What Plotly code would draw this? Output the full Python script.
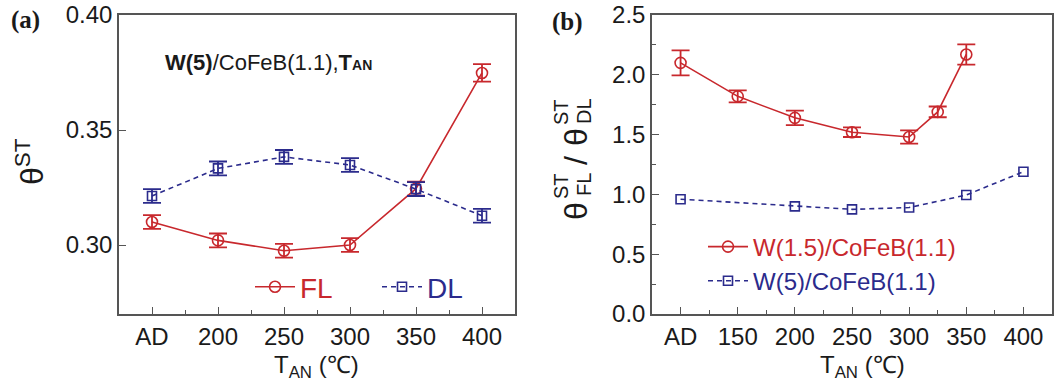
import plotly.graph_objects as go

W, H = 1062, 385

# ---------------- data ----------------
# panel (a): W(5)/CoFeB(1.1)
temps_a = ["AD", 200, 250, 300, 350, 400]
fl_a = [0.310, 0.302, 0.2975, 0.300, 0.3245, 0.3748]
fl_a_err = [0.003, 0.003, 0.003, 0.003, 0.003, 0.0038]
dl_a = [0.3213, 0.3333, 0.3383, 0.3348, 0.3243, 0.3127]
dl_a_err = [0.003, 0.003, 0.003, 0.003, 0.003, 0.003]
ticks_a = ["AD", "200", "250", "300", "350", "400"]

# panel (b): ratio FL/DL
temps_b_red = ["AD", 150, 200, 250, 300, 325, 350]
ratio_red = [2.10, 1.82, 1.64, 1.52, 1.48, 1.69, 2.17]
ratio_red_err = [0.105, 0.05, 0.06, 0.04, 0.055, 0.045, 0.085]
temps_b_blue = ["AD", 200, 250, 300, 350, 400]
ratio_blue = [0.96, 0.90, 0.875, 0.89, 0.995, 1.19]
ticks_b = ["AD", "150", "200", "250", "300", "350", "400"]

AD_POS_A = 150  # position used for the as-deposited sample on axis (a)
AD_POS_B = 100  # position used for the as-deposited sample on axis (b)

RED = "#c8282d"
BLUE = "#2b2b8c"
AXC = "#555555"
FONT = "Liberation Sans, Arial, sans-serif"


def xpos(temps, ad):
    return [ad if t == "AD" else t for t in temps]


def px(x):
    return x / W


def py(y):
    return 1 - y / H


fig = go.Figure()

mk_c = dict(symbol="circle-open", size=11, color=RED, line=dict(width=1.6, color=RED))
mk_s = dict(symbol="square-open", size=9, color=BLUE, line=dict(width=1.6, color=BLUE))

fig.add_trace(go.Scatter(
    x=xpos(temps_a, AD_POS_A), y=fl_a, mode="lines+markers",
    name=f"<span style='color:{RED}'>FL</span>",
    line=dict(color=RED, width=1.6), marker=mk_c,
    error_y=dict(type="data", array=fl_a_err, color=RED, thickness=1.8, width=9),
    xaxis="x", yaxis="y", legend="legend"))
fig.add_trace(go.Scatter(
    x=xpos(temps_a, AD_POS_A), y=dl_a, mode="lines+markers",
    name=f"<span style='color:{BLUE}'>DL</span>",
    line=dict(color=BLUE, width=1.6, dash="5px,4px"), marker=mk_s,
    error_y=dict(type="data", array=dl_a_err, color=BLUE, thickness=1.8, width=9),
    xaxis="x", yaxis="y", legend="legend"))

fig.add_trace(go.Scatter(
    x=xpos(temps_b_red, AD_POS_B), y=ratio_red, mode="lines+markers",
    name=f"<span style='color:{RED}'>W(1.5)/CoFeB(1.1)</span>",
    line=dict(color=RED, width=1.6), marker=mk_c,
    error_y=dict(type="data", array=ratio_red_err, color=RED, thickness=1.8, width=9),
    xaxis="x2", yaxis="y2", legend="legend2"))
fig.add_trace(go.Scatter(
    x=xpos(temps_b_blue, AD_POS_B), y=ratio_blue, mode="lines+markers",
    name=f"<span style='color:{BLUE}'>W(5)/CoFeB(1.1)</span>",
    line=dict(color=BLUE, width=1.6, dash="5px,4px"), marker=mk_s,
    xaxis="x2", yaxis="y2", legend="legend2"))

ydom = [py(314), py(15)]
axis_common = dict(showline=True, linecolor=AXC, linewidth=1.5, mirror=True,
                   ticks="inside", ticklen=7, tickwidth=1.3, tickcolor=AXC,
                   showgrid=False, zeroline=False, automargin=False,
                   tickfont=dict(family=FONT, size=24, color="#1a1a1a"))

fig.update_layout(
    width=W, height=H, margin=dict(l=0, r=0, t=0, b=0, autoexpand=False),
    paper_bgcolor="white", plot_bgcolor="white",
    xaxis=dict(domain=[px(119), px(515)], range=[125, 425],
               tickvals=xpos(temps_a, AD_POS_A), ticktext=ticks_a,
               minor=dict(dtick=25, tick0=125, ticks="inside", ticklen=4, tickcolor=AXC),
               ticklabelstandoff=0, anchor="y", **axis_common),
    yaxis=dict(domain=ydom, range=[0.27, 0.40], tickvals=[0.30, 0.35, 0.40],
               tickformat=".2f", anchor="x", **axis_common),
    xaxis2=dict(domain=[px(652), px(1052)], range=[75, 425],
                tickvals=[AD_POS_B, 150, 200, 250, 300, 350, 400], ticktext=ticks_b,
                minor=dict(dtick=25, tick0=75, ticks="inside", ticklen=4, tickcolor=AXC),
                ticklabelstandoff=0, anchor="y2", **axis_common),
    yaxis2=dict(domain=ydom, range=[0, 2.5], dtick=0.5, tickformat=".1f",
                minor=dict(dtick=0.25, ticks="inside", ticklen=4, tickcolor=AXC),
                anchor="x2", **axis_common),
    legend=dict(orientation="h", x=px(250), y=py(287), xanchor="left", yanchor="middle",
                bgcolor="rgba(0,0,0,0)", font=dict(family=FONT, size=28),
                entrywidth=72, itemwidth=40),
    legend2=dict(orientation="v", x=px(703), y=py(264), xanchor="left", yanchor="middle",
                 bgcolor="rgba(0,0,0,0)", font=dict(family=FONT, size=24),
                 itemwidth=40, tracegroupgap=0),
    showlegend=True,
)

ann = []
tfont = dict(family=FONT, size=24, color="#1a1a1a")
# panel labels
ann.append(dict(text="<b>(a)</b>", x=px(25), y=py(20), font=dict(family="Liberation Serif", size=25, color="#1a1a1a")))
ann.append(dict(text="<b>(b)</b>", x=px(567), y=py(22), font=dict(family="Liberation Serif", size=25, color="#1a1a1a")))
# inset label
ann.append(dict(text="<b>W(5)</b>/CoFeB(1.1),<b>T<span style='font-size:14px'>AN</span></b>",
                x=px(163), y=py(62), xanchor="left", font=dict(family=FONT, size=22, color="#1a1a1a")))
# x titles
ann.append(dict(text="T<sub>AN</sub> (℃)", x=px(316), y=py(366), font=tfont))
ann.append(dict(text="T<sub>AN</sub> (℃)", x=px(862), y=py(366), font=tfont))
# y title (a)
ann.append(dict(text="θ<sup>ST</sup>", x=px(30), y=py(162), textangle=-90,
                font=dict(family=FONT, size=32, color="#1a1a1a")))
# y title (b): θ^ST_FL / θ^ST_DL built from pieces
big = dict(family=FONT, size=32, color="#1a1a1a")
small = dict(family=FONT, size=20, color="#1a1a1a")
ann.append(dict(text="θ", x=px(576), y=py(211), textangle=-90, font=big))
ann.append(dict(text="ST", x=px(561), y=py(186), textangle=-90, font=small))
ann.append(dict(text="FL", x=px(584), y=py(185), textangle=-90, font=small))
ann.append(dict(text="/", x=px(576), y=py(161), textangle=-90, font=big))
ann.append(dict(text="θ", x=px(576), y=py(137), textangle=-90, font=big))
ann.append(dict(text="ST", x=px(561), y=py(112), textangle=-90, font=small))
ann.append(dict(text="DL", x=px(584), y=py(111), textangle=-90, font=small))

for a in ann:
    a.setdefault("xref", "paper")
    a.setdefault("yref", "paper")
    a.setdefault("showarrow", False)
    a.setdefault("xanchor", "center")
    a.setdefault("yanchor", "middle")
fig.update_layout(annotations=ann)

fig.write_html("out.html", config={"displayModeBar": False},
               post_script="document.body.style.margin='0';document.body.style.overflow='hidden';")
